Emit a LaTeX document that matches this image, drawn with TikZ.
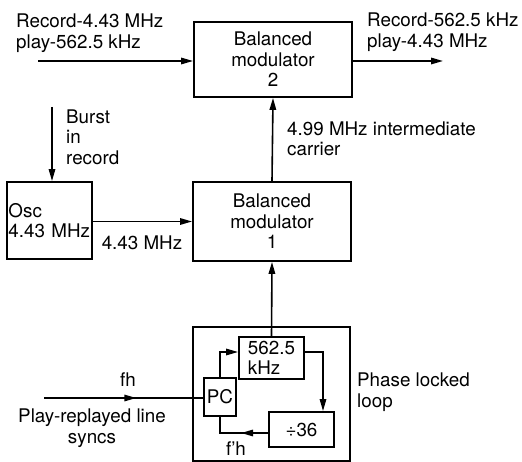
\documentclass[tikz,border=0pt]{standalone}
\usepackage{fontspec}
\setmainfont{TeX Gyre Heros}
\usetikzlibrary{positioning,arrows.meta,calc,decorations.markings}

\begin{document}
\begin{tikzpicture}[x=1pt,y=-1pt,
      box/.style={draw, line width=1.9pt, align=center, inner sep=1pt,
                  font=\fontsize{18.8}{20.5}\selectfont},
      lbl/.style={font=\fontsize{18.8}{20.5}\selectfont, align=left, inner sep=0pt},
      arr/.style={-{Triangle[length=12pt,width=6.5pt]}, line width=1.6pt},
      midarr/.style={line width=1.6pt, postaction={decorate},
                  decoration={markings, mark=at position #1 with
                  {\arrow{Triangle[length=12pt,width=6.5pt]}}}}
    ]
    \useasboundingbox (0,0) rectangle (522,462);

    % main blocks
    \node[box, minimum width=158pt, minimum height=75pt] (bm2) at (273,59.5) {Balanced\\modulator\\2};
    \node[box, minimum width=158pt, minimum height=79pt] (bm1) at (272,221.5) {Balanced\\modulator\\1};
    \node[box, minimum width=85pt, minimum height=77pt, text width=82pt, inner xsep=1.5pt, align=left] (osc) at (49.5,220.5) {Osc\\4.43 MHz};

    % phase locked loop
    \node[box, minimum width=157pt, minimum height=134pt] (pll) at (271.5,394) {};
    \node[box, minimum width=65pt, minimum height=42pt, align=left] (vco) at (271.5,358) {562.5\\kHz};
    \node[box, minimum width=32pt, minimum height=38pt] (pc) at (220,397) {PC};
    \node[box, minimum width=65pt, minimum height=35pt] (div) at (301.5,429.5) {÷36};

    % free ends
    \coordinate (in2) at (38,61);
    \coordinate (out2) at (443,61);
    \coordinate (burst) at (52,107);
    \coordinate (fhin) at (44,398);

    \draw[arr] (in2) -- (in2 -| bm2.west);
    \draw[arr] (out2 -| bm2.east) -- (out2);
    \draw[arr] (burst) -- (burst |- osc.north);
    \draw[arr] (osc.east |- bm1.west) -- (bm1.west);
    \draw[arr] (bm1.north) -- (bm2.south);
    \draw[arr] (vco.north) -- (bm1.south);

    \draw[midarr=0.58] (fhin) -- (fhin -| pc.west);
    \draw[arr] (pc.north) |- ($(vco.west)+(0,-6)$);
    \draw[arr] ($(vco.east)+(0,-6)$) -| ($(div.north)+(21.5,0)$);
    \draw[midarr=0.42] ($(div.west)+(0,3.5)$) -| (pc.south);

    % labels
    \node[lbl, anchor=west] (lin2) at (16,33) {Record-4.43 MHz\\play-562.5 kHz};
    \node[lbl, anchor=west] (lout2) at (367,32) {Record-562.5 kHz\\play-4.43 MHz};
    \node[lbl, anchor=west] (lcar) at (287,139) {4.99 MHz intermediate\\carrier};
    \node[lbl, anchor=west] (lburst) at (66,137) {Burst\\in\\record};
    \node[lbl] (losc) at (142,243) {4.43 MHz};
    \node[lbl] (lfh) at (128,380) {fh};
    \node[lbl, align=center] (lsync) at (92,428) {Play-replayed line\\syncs};
    \node[lbl] (lfb) at (236,449) {f'h};
    \node[lbl, anchor=west] (lpll) at (357,392) {Phase locked\\loop};
  \end{tikzpicture}
\end{document}
